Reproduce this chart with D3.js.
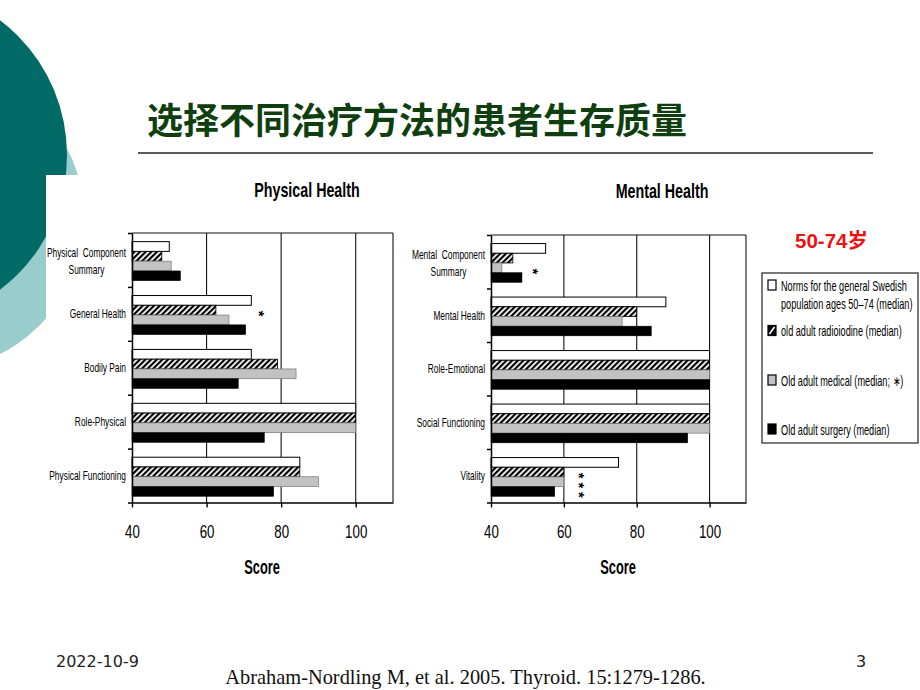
<!DOCTYPE html>
<html><head><meta charset="utf-8">
<script src="https://cdn.jsdelivr.net/npm/d3@7"></script>
<style>body{margin:0;background:#fff}svg{display:block}text{white-space:pre}</style>
</head><body><svg id="c" width="920" height="690"></svg>
<script>
// ---------- DATA ----------
const physCategories = ["Physical Component Summary","General Health","Bodily Pain","Role-Physical","Physical Functioning"];
const physNorms       = [50, 72, 72, 100, 85];
const physRadioiodine = [48, 62.5, 79, 100, 85];
const physMedical     = [50.5, 66, 84, 100, 90];
const physSurgery     = [53, 70.5, 68.5, 75.5, 78];
const physStars = [{category:"General Health", series:[1], value:75}];

const mentCategories = ["Mental Component Summary","Mental Health","Role-Emotional","Social Functioning","Vitality"];
const mentNorms       = [55, 88, 100, 100, 75];
const mentRadioiodine = [46, 80, 100, 100, 60];
const mentMedical     = [43, 76, 100, 100, 60];
const mentSurgery     = [48.5, 84, 100, 94, 57.5];
const mentStars = [
  {category:"Mental Component Summary", series:[2], value:52.5},
  {category:"Vitality", series:[1,2,3], value:65}
];

const xTicks = [40, 60, 80, 100];
const xDomain = [40, 110];
const labelLines = {
  "Physical Component Summary": ["Physical  Component", "Summary"],
  "Mental Component Summary": ["Mental  Component", "Summary"]
};
const legendLabels = [
  ["Norms for the general Swedish", "population ages 50\u201374 (median)"],
  ["old adult radioiodine (median)"],
  ["Old adult medical (median; \u2217)"],
  ["Old adult surgery (median)"]
];
const slideTitle = "选择不同治疗方法的患者生存质量";
const ageLabel = "50-74岁";
const dateText = "2022-10-9";
const citation = "Abraham-Nordling M, et al. 2005. Thyroid. 15:1279-1286.";
const pageNum = "3";

// ---------- DRAW ----------
const svg = d3.select("#c");
const SANS = "'Liberation Sans', Arial, sans-serif";

const defs = svg.append("defs");
const pat = defs.append("pattern").attr("id","hatch").attr("patternUnits","userSpaceOnUse")
  .attr("width",4).attr("height",4).attr("patternTransform","rotate(45)");
pat.append("rect").attr("width",4).attr("height",4).attr("fill","#fff");
pat.append("rect").attr("width",2.2).attr("height",4).attr("fill","#000");

// background decoration
svg.append("circle").attr("cx",-68).attr("cy",218).attr("r",152).attr("fill","#99cccc");
svg.append("circle").attr("cx",-102).attr("cy",155).attr("r",169).attr("fill","#006a66");
svg.append("rect").attr("x",46).attr("y",175).attr("width",874).attr("height",515).attr("fill","#fff");

// condensed text helper
function ctext(g, x, y, str, o) {
  o = Object.assign({size:12, sx:0.67, anchor:"middle", weight:"normal", fill:"#000", family:SANS}, o||{});
  return g.append("text")
    .attr("transform", `translate(${x},${y}) scale(${o.sx},1)`)
    .attr("text-anchor", o.anchor)
    .attr("font-family", o.family).attr("font-size", o.size)
    .attr("font-weight", o.weight).attr("fill", o.fill)
    .text(str);
}

// slide title
svg.append("text").attr("x",147).attr("y",134)
  .attr("font-family","'Noto Sans CJK SC', sans-serif").attr("font-weight",700)
  .attr("font-size",36).attr("fill","#0f3f0f").text(slideTitle);
svg.append("line").attr("x1",138).attr("x2",873).attr("y1",153).attr("y2",153)
  .attr("stroke","#222").attr("stroke-width",1.6);

function drawChart(cfg) {
  const g = svg.append("g");
  const x = d3.scaleLinear().domain(xDomain).range([cfg.left, cfg.right]);
  const y = d3.scaleBand().domain(cfg.categories).range([cfg.top, cfg.bottom]).padding(0);
  const bw = y.bandwidth();
  const ys = d3.scaleBand().domain(d3.range(4)).range([bw*0.16, bw*0.885]);

  // frame + grid
  g.append("line").attr("x1",x(40)).attr("x2",x(110)).attr("y1",cfg.top).attr("y2",cfg.top)
    .attr("stroke","#111").attr("stroke-width",1.1);
  g.selectAll(null).data([60,80,100,110]).join("line")
    .attr("x1",d=>x(d)).attr("x2",d=>x(d)).attr("y1",cfg.top).attr("y2",cfg.bottom)
    .attr("stroke","#111").attr("stroke-width",1.1);

  // bars
  const styles = [
    {fill:"#fff", stroke:"#000", sw:1},
    {fill:"url(#hatch)", stroke:"#000", sw:0.8},
    {fill:"#c2c2c2", stroke:"#777", sw:0.7},
    {fill:"#000", stroke:"#000", sw:0.5}
  ];
  cfg.series.forEach((vals, si) => {
    g.selectAll(null).data(cfg.categories).join("rect")
      .attr("x", x(40))
      .attr("y", d => y(d) + ys(si))
      .attr("width", (d,i) => x(vals[i]) - x(40))
      .attr("height", ys.bandwidth())
      .attr("fill", styles[si].fill).attr("stroke", styles[si].stroke)
      .attr("stroke-width", styles[si].sw);
  });

  // left axis with ticks at band boundaries
  const yb = d3.scaleLinear().domain([0, cfg.categories.length]).range([cfg.top, cfg.bottom]);
  const la = g.append("g").attr("transform",`translate(${x(40)},0)`)
    .call(d3.axisLeft(yb).tickValues(d3.range(cfg.categories.length+1)).tickSize(4).tickSizeOuter(0).tickFormat(""));
  la.selectAll("path,line").attr("stroke","#000").attr("stroke-width",1.5);

  // bottom axis
  const ba = g.append("g").attr("transform",`translate(0,${cfg.bottom})`)
    .call(d3.axisBottom(x).tickValues(xTicks).tickSize(5).tickSizeOuter(0));
  ba.selectAll("path,line").attr("stroke","#000").attr("stroke-width",1.4);
  ba.selectAll("text").attr("y",35.5).attr("dy",0).attr("font-size",18)
    .attr("font-family",SANS).attr("fill","#000").attr("transform","scale(0.74,1)");

  // axis title
  ctext(g, cfg.scoreX, cfg.bottom + 71, "Score", {size:20, sx:0.64, weight:"bold"});
  // chart title
  ctext(g, cfg.titleX, cfg.titleY, cfg.title, {size:21, sx:0.68, weight:"bold"});

  // category labels
  cfg.categories.forEach(c => {
    const cy = y(c) + bw/2;
    const lines = labelLines[c];
    if (lines) {
      const t1 = ctext(g, cfg.labelRight, cy - 2.5, lines[0], {size:12.5, anchor:"end"});
      const w = t1.node().getComputedTextLength() * 0.67;
      ctext(g, cfg.labelRight - w/2, cy + 14, lines[1], {size:12.5});
    } else {
      ctext(g, cfg.labelRight, cy + 4.5, c, {size:12.5, anchor:"end"});
    }
  });

  // significance stars: one text per group, written downward (rotated) so stacked stars share one box
  const fs = 15;
  cfg.stars.forEach(s => {
    const cy0 = y(s.category) + ys(s.series[0]) + ys.bandwidth()/2;
    const adv = 0.389 * fs;
    const ls = ys.step() - adv;
    g.append("text")
      .attr("transform", `translate(${x(s.value) - 0.57*fs},${cy0 + 3.5 - adv/2}) rotate(90)`)
      .attr("text-anchor","start").attr("font-family",SANS).attr("font-size",fs)
      .attr("font-weight","bold").attr("fill","#000")
      .attr("letter-spacing", ls)
      .text("*".repeat(s.series.length));
  });
}

drawChart({
  categories: physCategories,
  series: [physNorms, physRadioiodine, physMedical, physSurgery],
  stars: physStars,
  left: 132, right: 393, top: 233, bottom: 502.5,
  labelRight: 126, title: "Physical Health", titleX: 307, titleY: 196.5, scoreX: 262
});
drawChart({
  categories: mentCategories,
  series: [mentNorms, mentRadioiodine, mentMedical, mentSurgery],
  stars: mentStars,
  left: 491, right: 746, top: 235, bottom: 502.5,
  labelRight: 485, title: "Mental Health", titleX: 662, titleY: 198, scoreX: 618
});

// age label
svg.append("text").attr("x",795).attr("y",248)
  .attr("font-family","'Liberation Sans', 'Noto Sans CJK SC', sans-serif").attr("font-weight","bold")
  .attr("font-size",20.5).attr("fill","#ee1111").text(ageLabel);

// legend
const lg = svg.append("g");
lg.append("rect").attr("x",762).attr("y",273).attr("width",156).attr("height",170)
  .attr("fill","#fff").attr("stroke","#333").attr("stroke-width",1.3);
const legendTops = [280, 325.5, 375, 424];
legendLabels.forEach((lines, i) => {
  const top = legendTops[i];
  lg.append("rect").attr("x",768).attr("y",top).attr("width",8).attr("height",10)
    .attr("stroke","#000").attr("stroke-width",1.2)
    .attr("fill", ["#fff","#000","#c2c2c2","#000"][i]);
  if (i === 1) {
    lg.append("line").attr("x1",769.5).attr("y1",top+8.5).attr("x2",774.5).attr("y2",top+1.5)
      .attr("stroke","#fff").attr("stroke-width",1.6);
  }
  lines.forEach((ln, j) => {
    ctext(lg, 781, top + 10.5 + j*18, ln, {size:14, sx:0.655, anchor:"start"});
  });
});

// footer
svg.append("text").attr("x",56).attr("y",667).attr("font-family","'DejaVu Sans', sans-serif").attr("font-size",16)
  .attr("fill","#222").text(dateText);
svg.append("text").attr("x",465.5).attr("y",684).attr("text-anchor","middle")
  .attr("font-family","'Liberation Serif', 'Times New Roman', serif").attr("font-size",20.4)
  .attr("fill","#111").text(citation);
svg.append("text").attr("x",856).attr("y",667).attr("font-family","'DejaVu Sans', sans-serif").attr("font-size",16)
  .attr("fill","#222").text(pageNum);
</script>
</body></html>
